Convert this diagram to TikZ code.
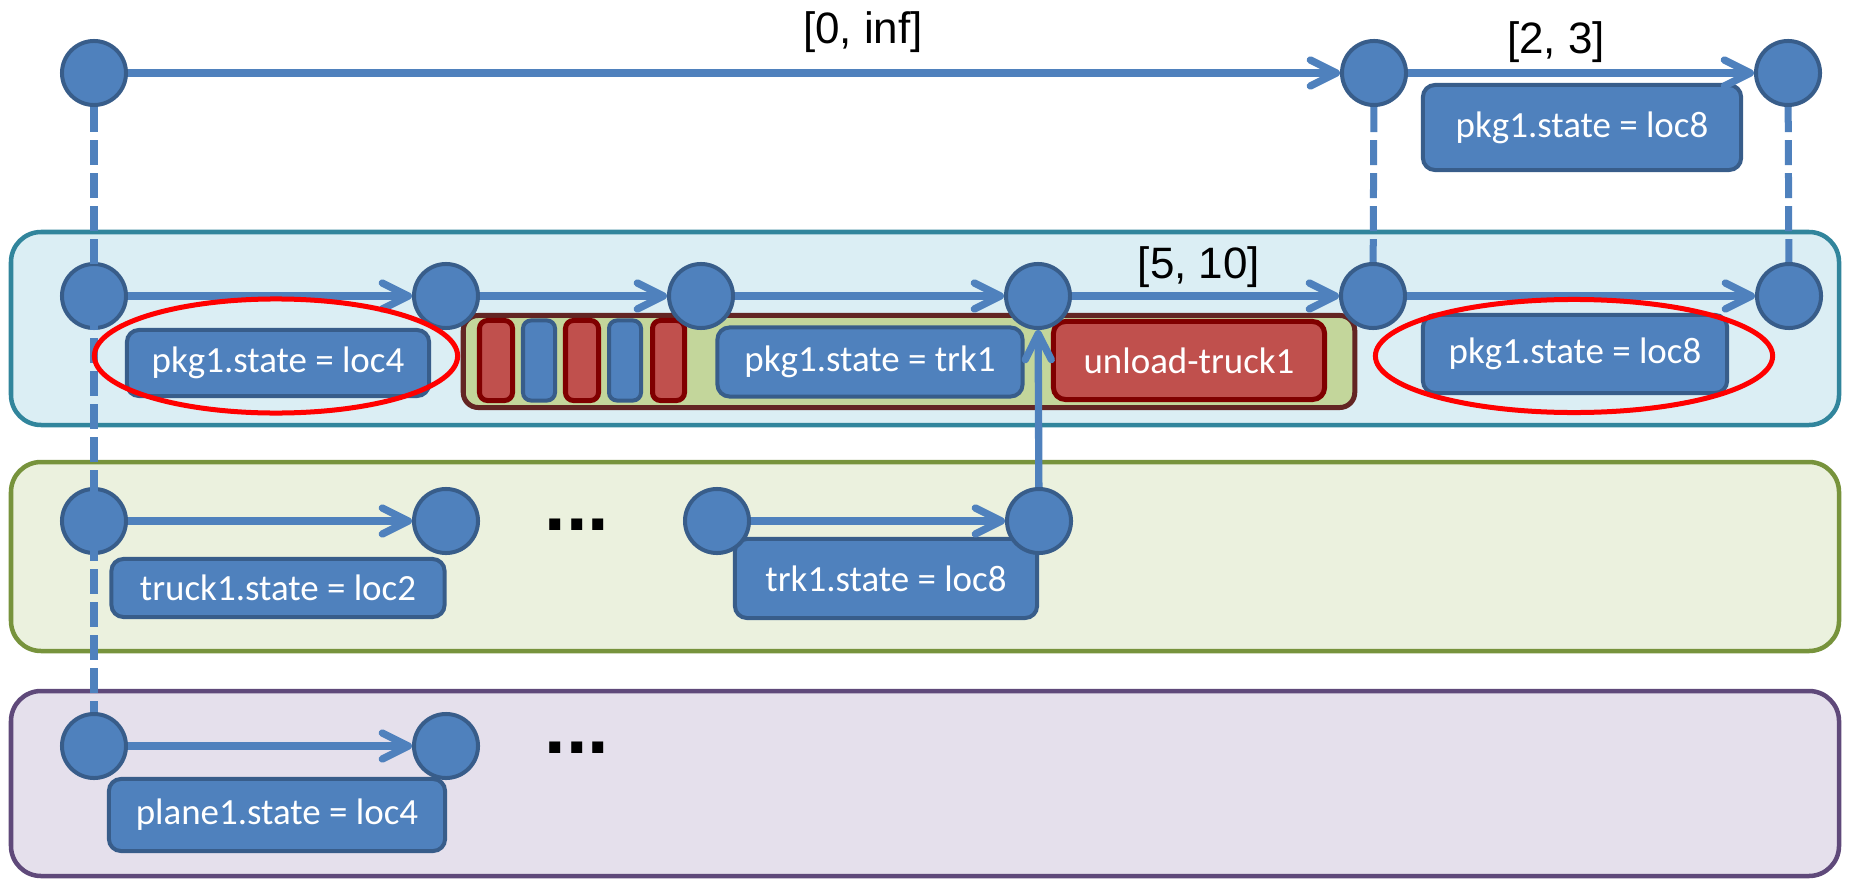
\documentclass[tikz,border=0pt]{standalone}
\usepackage{fontspec}
\setmainfont{Carlito}
\newfontfamily\labelfont{Liberation Sans}
\usetikzlibrary{arrows.meta,shapes.geometric}

\definecolor{nodeblue}{HTML}{4F81BD}
\definecolor{nodeedge}{HTML}{385D8A}
\definecolor{actred}{HTML}{C0504D}
\definecolor{actedge}{HTML}{800000}
\definecolor{bundlefill}{HTML}{C3D69B}
\definecolor{bundleedge}{HTML}{632523}
\definecolor{pkgfill}{HTML}{DBEEF4}
\definecolor{pkgedge}{HTML}{31859C}
\definecolor{trkfill}{HTML}{EBF1DE}
\definecolor{trkedge}{HTML}{77933C}
\definecolor{plnfill}{HTML}{E5E0EC}
\definecolor{plnedge}{HTML}{5F497A}

\tikzset{
  event/.style={circle, fill=nodeblue, draw=nodeedge, line width=0.04cm,
    minimum size=0.64cm, inner sep=0pt},
  valbox/.style={rectangle, rounded corners=0.12cm, fill=nodeblue, draw=nodeedge,
    line width=0.04cm, text=white, inner sep=0pt,
    font=\fontsize{10.5pt}{12pt}\selectfont},
  actbox/.style={rectangle, rounded corners=0.12cm, fill=actred, draw=actedge,
    line width=0.05cm, text=white, inner sep=0pt,
    font=\fontsize{10.5pt}{12pt}\selectfont},
  redbar/.style={rectangle, rounded corners=0.08cm, fill=actred, draw=actedge,
    line width=0.05cm, minimum height=0.80cm, inner sep=0pt},
  bluebar/.style={rectangle, rounded corners=0.08cm, fill=nodeblue, draw=nodeedge,
    line width=0.04cm, minimum height=0.80cm, inner sep=0pt},
  bundle/.style={rectangle, rounded corners=0.15cm, fill=bundlefill, draw=bundleedge,
    line width=0.05cm, inner sep=0pt},
  band/.style={rounded corners=0.3cm, line width=0.045cm},
  flow/.style={draw=nodeblue, line width=0.073cm,
    -{Straight Barb[length=0.26cm,width=0.26cm,line cap=round,line join=round]}},
  sync/.style={draw=nodeblue, line width=0.07cm, dash pattern=on 0.25cm off 0.08cm},
  focus/.style={ellipse, draw=red, line width=0.05cm, inner sep=0pt},
  bound/.style={font=\labelfont\fontsize{12.5pt}{15pt}\selectfont, inner sep=0pt},
  more/.style={font=\labelfont\bfseries\fontsize{22pt}{26pt}\selectfont, inner sep=0pt},
}

\begin{document}
\begin{tikzpicture}[x=0.01cm, y=-0.01cm]
\useasboundingbox (0,0) rectangle (1849,879);

% timeline bands
\draw[band, fill=pkgfill, draw=pkgedge] (11,232) rectangle (1839,425);
\draw[band, fill=trkfill, draw=trkedge] (11,462) rectangle (1839,651);
\draw[band, fill=plnfill, draw=plnedge] (11,691) rectangle (1839,876);

% grouped sequence of actions and values
\node[bundle, minimum width=8.91cm, minimum height=0.92cm] (grp) at (909,361.5) {};
\node[redbar,  minimum width=0.33cm] (bar1) at (496,360.5) {};
\node[bluebar, minimum width=0.32cm] (bar2) at (539,360.5) {};
\node[redbar,  minimum width=0.33cm] (bar3) at (582,360.5) {};
\node[bluebar, minimum width=0.32cm] (bar4) at (625,360.5) {};
\node[redbar,  minimum width=0.32cm] (bar5) at (668.5,360.5) {};

% value boxes
\node[valbox, minimum width=3.18cm, minimum height=0.85cm] (goal) at (1582,127.5) {pkg1.state = loc8};
\node[valbox, minimum width=3.02cm, minimum height=0.66cm] (pkgA) at (278,363) {pkg1.state = loc4};
\node[valbox, minimum width=3.05cm, minimum height=0.69cm] (pkgB) at (870,362) {pkg1.state = trk1};
\node[actbox, minimum width=2.71cm, minimum height=0.78cm] (unload) at (1189,360.5) {unload-truck1};
\node[valbox, minimum width=3.04cm, minimum height=0.78cm] (pkgC) at (1575,354) {pkg1.state = loc8};
\node[valbox, minimum width=3.33cm, minimum height=0.58cm] (trkA) at (278,588) {truck1.state = loc2};
\node[valbox, minimum width=3.02cm, minimum height=0.79cm] (trkB) at (886,578.5) {trk1.state = loc8};
\node[valbox, minimum width=3.36cm, minimum height=0.72cm] (plnA) at (277,815) {plane1.state = loc4};

% timepoints
\node[event] (A0) at (94,73) {};
\node[event] (A1) at (1374,73) {};
\node[event] (A2) at (1788,73) {};
\node[event] (B0) at (94,296) {};
\node[event] (B1) at (446,296) {};
\node[event] (B2) at (701,296) {};
\node[event] (B3) at (1038,296) {};
\node[event] (B4) at (1373,296) {};
\node[event] (B5) at (1789,296) {};
\node[event] (C0) at (94,521) {};
\node[event] (C1) at (446,521) {};
\node[event] (C2) at (717,521) {};
\node[event] (C3) at (1039,521) {};
\node[event] (D0) at (94,746) {};
\node[event] (D1) at (446,746) {};

% temporal edges
\draw[flow] (A0) -- (A1);
\draw[flow] (A1) -- (A2);
\draw[flow] (B0) -- (B1);
\draw[flow] (B1) -- (B2);
\draw[flow] (B2) -- (B3);
\draw[flow] (B3) -- (B4);
\draw[flow] (B4) -- (B5);
\draw[flow] (C0) -- (C1);
\draw[flow] (C2) -- (C3);
\draw[flow] (D0) -- (D1);
\draw[flow] (C3) -- (B3);

% synchronisation links
\draw[sync] (A0) -- (D0);
\draw[sync] (A1) -- (B4);
\draw[sync] (A2) -- (B5);

% highlighted values
\node[focus, minimum width=3.63cm, minimum height=1.14cm] (hlA) at (276,356) {};
\node[focus, minimum width=3.97cm, minimum height=1.13cm] (hlB) at (1574,356) {};

% interval bounds
\node[bound, anchor=base] (intA) at (863,44) {[0, inf]};
\node[bound, anchor=base] (intB) at (1556,54) {[2, 3]};
\node[bound, anchor=base] (intC) at (1199,278) {[5, 10]};

% elided timepoints
\node[more, anchor=base] (moreC) at (577,530) {...};
\node[more, anchor=base] (moreD) at (577,753) {...};
\end{tikzpicture}
\end{document}
